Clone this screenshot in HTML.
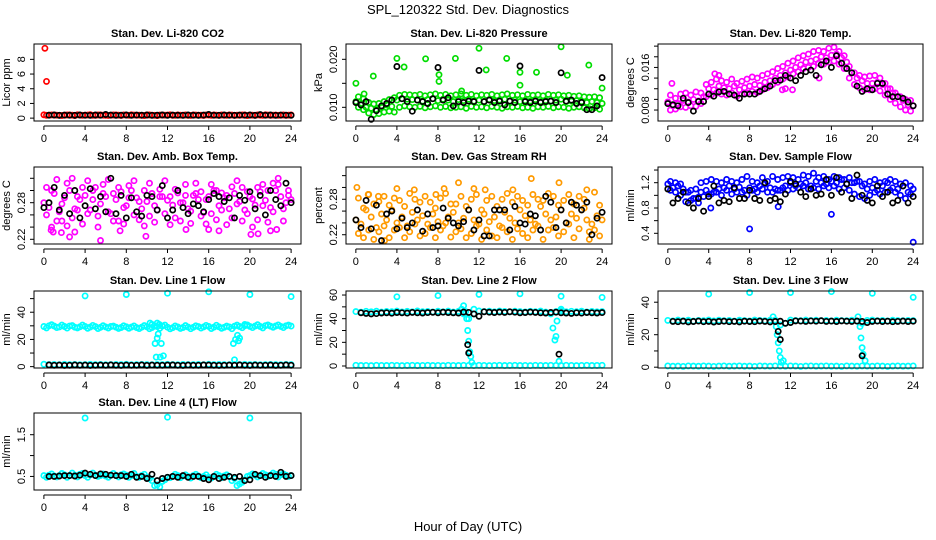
<!DOCTYPE html>
<html><head><meta charset="utf-8"><style>
html,body{margin:0;padding:0;background:#fff;}
svg{display:block;font-family:"Liberation Sans",sans-serif;}
</style></head><body>
<svg id="chart" width="936" height="540" viewBox="0 0 936 540" xmlns="http://www.w3.org/2000/svg">
<rect width="936" height="540" fill="#fff"/>
<text x="468" y="14" text-anchor="middle" font-size="13">SPL_120322  Std. Dev. Diagnostics</text>
<text x="468" y="531" text-anchor="middle" font-size="13">Hour of Day (UTC)</text>
<g id="panels"></g>
</svg>
<script>
// ---- data ----
const xTicks = [0,4,8,12,16,20,24];
const co2Red = [0.45,0.4,0.42,0.38,0.4,0.44,0.36,0.41,0.4,0.47,0.39,0.42,0.38,0.4,0.43,0.37,0.41,0.45,0.4,0.38,0.42,0.4,0.36,0.44,0.41,0.39,0.43,0.4,0.38,0.42,0.4,0.37,0.41,0.44,0.38,0.4,0.42,0.39,0.4,0.43,0.41,0.38,0.4,0.45,0.39,0.41,0.4,0.38,0.42];
const co2RedB = [0.38,0.44,0.4,0.36,0.42,0.4,0.45,0.38,0.41,0.39,0.43,0.4,0.37,0.42,0.4,0.44,0.38,0.41,0.4,0.36,0.43,0.39,0.41,0.4,0.45,0.38,0.4,0.42,0.37,0.41,0.4,0.44,0.39,0.4,0.43,0.38,0.41,0.4,0.42,0.36,0.4,0.44,0.39,0.41,0.4,0.38,0.43,0.4];
const co2OutX = [0.1,0.25];
const co2OutY = [9.5,5.0];
const co2Blk = [0.4,0.42,0.38,0.41,0.4,0.39,0.43,0.4,0.38,0.42,0.4,0.5,0.41,0.39,0.4,0.42,0.38,0.41,0.4,0.43,0.39,0.4,0.42,0.38,0.41,0.4,0.39,0.42,0.4,0.38,0.41,0.5,0.4,0.39,0.42,0.4,0.38,0.41,0.4,0.43,0.39,0.48,0.4,0.42,0.38,0.41,0.4,0.39,0.42];

const presMid = [0.0112,0.0108,0.0100,0.0098,0.0095,0.0100,0.0105,0.0102,0.0115,0.0118,0.0117,0.0116,0.0115,0.0113,0.0116,0.0118,0.0114,0.0117,0.0115,0.0112,0.0116,0.0114,0.0117,0.0113,0.0115,0.0112,0.0116,0.0114,0.0115,0.0117,0.0113,0.0115,0.0112,0.0114,0.0113,0.0116,0.0112,0.0114,0.0113,0.0115,0.0117,0.0112,0.0113,0.0114,0.0112,0.0110,0.0112,0.0110,0.0108];
const presLo = [0.0100,0.0095,0.0088,0.0085,0.0087,0.0090,0.0092,0.0090,0.0100,0.0103,0.0101,0.0100,0.0102,0.0099,0.0101,0.0103,0.0100,0.0102,0.0099,0.0100,0.0101,0.0098,0.0102,0.0100,0.0101,0.0099,0.0102,0.0100,0.0098,0.0101,0.0100,0.0102,0.0099,0.0100,0.0098,0.0101,0.0100,0.0102,0.0099,0.0101,0.0100,0.0098,0.0100,0.0101,0.0099,0.0097,0.0099,0.0096];
const presHi = [0.0122,0.0118,0.0110,0.0107,0.0108,0.0112,0.0116,0.0120,0.0125,0.0127,0.0126,0.0125,0.0127,0.0124,0.0126,0.0128,0.0125,0.0127,0.0124,0.0126,0.0128,0.0125,0.0127,0.0124,0.0126,0.0125,0.0127,0.0124,0.0126,0.0128,0.0125,0.0126,0.0124,0.0127,0.0125,0.0126,0.0124,0.0127,0.0125,0.0126,0.0124,0.0125,0.0123,0.0124,0.0122,0.0121,0.0122,0.0120];
const presOutX = [0,0.8,1.7,4,4.7,6.8,8.1,8.1,9.7,10.3,12,12.7,14.7,16,16,17.6,20,20.6,22.7,24];
const presOutY = [0.0150,0.0128,0.0165,0.0202,0.0184,0.0201,0.0168,0.0154,0.0202,0.0134,0.0223,0.0178,0.0202,0.0173,0.0146,0.0173,0.0226,0.0167,0.0188,0.0140];
const presBlk = [0.0110,0.0105,0.0112,0.0075,0.0093,0.0103,0.0108,0.0115,0.0185,0.0118,0.0112,0.0092,0.0115,0.0112,0.0108,0.0118,0.0183,0.0115,0.0120,0.0103,0.0112,0.0110,0.0113,0.0112,0.0177,0.0112,0.0115,0.0110,0.0113,0.0105,0.0113,0.0110,0.0186,0.0112,0.0110,0.0113,0.0110,0.0112,0.0113,0.0110,0.0172,0.0113,0.0115,0.0108,0.0110,0.0095,0.0095,0.0103,0.0162];

const tmpMid = [0.0095,0.0088,0.0092,0.0098,0.0095,0.0100,0.0097,0.0105,0.0120,0.0118,0.0125,0.0122,0.0120,0.0125,0.0118,0.0122,0.0125,0.0128,0.0126,0.0132,0.0135,0.0140,0.0145,0.0150,0.0155,0.0160,0.0165,0.0170,0.0172,0.0175,0.0180,0.0178,0.0183,0.0185,0.0178,0.0170,0.0150,0.0140,0.0135,0.0130,0.0130,0.0132,0.0128,0.0120,0.0112,0.0105,0.0098,0.0090,0.0088];
const tmpLo = [0.0080,0.0082,0.0086,0.0085,0.0088,0.0087,0.0092,0.0105,0.0108,0.0112,0.0110,0.0108,0.0112,0.0106,0.0110,0.0112,0.0115,0.0113,0.0118,0.0122,0.0128,0.0132,0.0138,0.0142,0.0148,0.0152,0.0158,0.0160,0.0162,0.0168,0.0166,0.0170,0.0172,0.0166,0.0158,0.0140,0.0128,0.0122,0.0118,0.0118,0.0120,0.0116,0.0108,0.0100,0.0093,0.0086,0.0080,0.0078];
const tmpHi = [0.0108,0.0102,0.0110,0.0112,0.0108,0.0114,0.0112,0.0128,0.0132,0.0138,0.0135,0.0132,0.0138,0.0130,0.0134,0.0138,0.0142,0.0140,0.0145,0.0148,0.0152,0.0158,0.0162,0.0168,0.0172,0.0178,0.0182,0.0185,0.0190,0.0192,0.0190,0.0196,0.0198,0.0190,0.0182,0.0162,0.0150,0.0145,0.0142,0.0144,0.0145,0.0140,0.0130,0.0120,0.0112,0.0105,0.0100,0.0098];
const tmpOutX = [0.4,4.6,11.2,11.5,12.2,14.8,5.0];
const tmpOutY = [0.0130,0.0148,0.0118,0.0120,0.0118,0.0140,0.0145];
const tmpBlk = [0.0092,0.0090,0.0088,0.0102,0.0094,0.0078,0.0096,0.0096,0.0110,0.0106,0.0114,0.0115,0.0110,0.0108,0.0102,0.0110,0.0110,0.0110,0.0115,0.0120,0.0125,0.0135,0.0136,0.0145,0.0140,0.0135,0.0145,0.0152,0.0155,0.0145,0.0165,0.0172,0.0160,0.0182,0.0168,0.0158,0.0150,0.0125,0.0115,0.0120,0.0118,0.0130,0.0130,0.0110,0.0105,0.0105,0.0102,0.0095,0.0088];

const ambA = [0.280,0.272,0.295,0.265,0.288,0.300,0.270,0.285,0.292,0.268,0.305,0.278,0.290,0.262,0.285,0.298,0.275,0.300,0.288,0.270,0.282,0.295,0.268,0.290,0.284,0.276,0.296,0.280,0.270,0.292,0.285,0.264,0.290,0.300,0.275,0.288,0.270,0.295,0.282,0.268,0.290,0.276,0.298,0.284,0.272,0.300,0.290,0.280,0.285];
const ambB = [0.260,0.300,0.250,0.278,0.312,0.255,0.268,0.305,0.262,0.285,0.258,0.310,0.265,0.295,0.250,0.272,0.308,0.260,0.282,0.300,0.258,0.275,0.302,0.262,0.290,0.255,0.280,0.310,0.266,0.295,0.258,0.285,0.262,0.300,0.268,0.292,0.255,0.278,0.305,0.262,0.286,0.252,0.275,0.300,0.265,0.310,0.270,0.292];
const ambC = [0.305,0.240,0.318,0.250,0.242,0.320,0.290,0.245,0.316,0.300,0.240,0.295,0.318,0.250,0.305,0.245,0.288,0.316,0.252,0.242,0.312,0.248,0.290,0.316,0.244,0.302,0.250,0.292,0.246,0.312,0.298,0.245,0.310,0.252,0.296,0.244,0.306,0.316,0.250,0.298,0.240,0.305,0.310,0.248,0.312,0.320,0.250,0.300];
const ambOutX = [0.7,0.9,1.7,2.5,3.0,5.5,7.4,9.9,16.0,17.0,20.1,20.8,22.0,22.6,13.8];
const ambOutY = [0.235,0.232,0.231,0.224,0.232,0.218,0.234,0.225,0.236,0.234,0.228,0.229,0.234,0.236,0.236];
const ambBlk = [0.272,0.280,0.305,0.268,0.292,0.262,0.300,0.255,0.275,0.303,0.270,0.290,0.265,0.320,0.262,0.292,0.255,0.288,0.265,0.258,0.292,0.290,0.268,0.308,0.255,0.268,0.300,0.272,0.262,0.278,0.275,0.265,0.285,0.295,0.290,0.282,0.288,0.255,0.292,0.284,0.298,0.270,0.292,0.260,0.300,0.285,0.275,0.312,0.280];

const rhA = [0.245,0.238,0.262,0.250,0.232,0.255,0.245,0.262,0.240,0.250,0.235,0.258,0.245,0.252,0.238,0.255,0.242,0.235,0.250,0.258,0.240,0.248,0.262,0.245,0.238,0.255,0.242,0.250,0.235,0.258,0.248,0.240,0.262,0.252,0.245,0.238,0.268,0.255,0.245,0.250,0.262,0.240,0.255,0.248,0.262,0.245,0.238,0.252,0.245];
const rhB = [0.222,0.265,0.228,0.272,0.225,0.235,0.270,0.228,0.232,0.268,0.225,0.238,0.275,0.222,0.232,0.265,0.228,0.240,0.272,0.225,0.230,0.268,0.222,0.235,0.262,0.228,0.218,0.268,0.232,0.225,0.275,0.230,0.222,0.270,0.228,0.235,0.278,0.228,0.232,0.270,0.225,0.238,0.272,0.230,0.265,0.225,0.228,0.270];
const rhC = [0.282,0.215,0.288,0.212,0.276,0.285,0.215,0.282,0.278,0.215,0.290,0.280,0.218,0.285,0.275,0.215,0.282,0.290,0.216,0.272,0.285,0.215,0.280,0.288,0.212,0.278,0.285,0.215,0.280,0.290,0.212,0.285,0.278,0.215,0.288,0.280,0.212,0.290,0.285,0.218,0.278,0.288,0.215,0.285,0.280,0.212,0.292,0.218];
const rhOutX = [0.1,1.2,2.2,4.0,5.7,7.8,8.6,10.0,11.5,12.6,15.3,17.1,19.8,22.5,2.8];
const rhOutY = [0.300,0.288,0.285,0.298,0.296,0.288,0.298,0.308,0.298,0.296,0.296,0.315,0.308,0.296,0.210];
const rhBlk = [0.245,0.232,0.278,0.230,0.270,0.210,0.255,0.260,0.230,0.248,0.232,0.240,0.262,0.226,0.255,0.232,0.235,0.265,0.248,0.240,0.235,0.242,0.262,0.228,0.245,0.218,0.218,0.262,0.262,0.262,0.228,0.268,0.240,0.238,0.255,0.252,0.228,0.285,0.275,0.232,0.262,0.240,0.275,0.270,0.262,0.275,0.220,0.248,0.258];

const sfA = [1.18,1.12,1.15,1.10,1.05,0.95,0.97,0.98,1.02,1.05,1.10,1.12,1.15,1.10,1.13,1.08,1.12,1.10,1.15,1.18,1.12,1.10,1.08,1.15,1.20,1.15,1.18,1.20,1.15,1.22,1.20,1.18,1.22,1.20,1.25,1.18,1.20,1.22,1.15,1.10,1.12,1.08,1.15,1.20,1.12,1.10,1.15,1.05,1.10];
const sfB = [1.08,1.05,1.00,0.90,0.92,0.95,1.05,1.08,1.02,1.05,1.00,1.08,1.02,1.05,1.05,1.00,1.08,1.05,1.10,1.05,1.05,1.08,1.12,1.08,1.10,1.12,1.15,1.10,1.12,1.10,1.15,1.12,1.15,1.10,1.12,1.08,1.02,0.98,0.95,1.00,1.05,1.02,1.05,1.08,1.05,1.00,0.95,1.02];
const sfC = [1.22,1.20,1.18,1.05,1.08,1.10,1.20,1.22,1.25,1.22,1.20,1.25,1.22,1.20,1.25,1.30,1.22,1.20,1.28,1.22,1.30,1.25,1.28,1.30,1.28,1.25,1.32,1.30,1.35,1.28,1.30,1.25,1.30,1.28,1.25,1.28,1.20,1.22,1.18,1.22,1.25,1.20,1.22,1.25,1.22,1.18,1.20,1.15];
const sfOutX = [8.0,16.0,24.0,10.8,4.2,3.0];
const sfOutY = [0.47,0.70,0.26,0.82,0.80,0.88];
const sfBlk = [1.10,0.88,0.95,1.05,0.88,0.80,0.95,0.75,0.98,1.15,0.88,0.92,0.90,1.12,0.95,0.95,1.08,0.95,0.92,1.20,0.92,0.95,0.90,1.02,1.22,1.18,1.05,0.98,1.10,1.00,1.02,1.25,1.00,1.28,1.05,1.18,0.95,1.32,1.00,0.92,0.88,1.15,0.98,1.05,0.88,0.92,1.15,0.88,0.98];

const l1A = [29.5,30,29.8,29.2,29.5,29.8,29,29.3,29.6,29.1,29.4,28.9,29.2,29.5,29,28.8,29.3,29.1,28.7,29,29.3,28.8,29.5,29.8,29,28.6,29.2,28.8,29.1,28.9,29.4,29.2,29.6,29,29.3,28.9,29.2,29.7,29.5,30,29.6,29.8,29.5,30.1,29.7,29.9,29.6,30,29.8];
const l1B = [28.5,30.8,28.8,30.5,28.3,30.2,28.5,30.5,28.2,30.3,28.0,30.1,28.4,29.8,28.1,30.0,28.2,29.9,28.0,30.2,27.9,30.0,28.2,30.5,27.8,29.9,28.1,30.2,27.9,30.0,28.3,30.3,28.0,30.4,28.2,29.8,27.9,30.5,28.6,30.6,28.7,30.8,28.5,30.6,28.9,30.7,28.7,30.5];
const l1Base = [1.8,1.5,1.6,1.4,1.7,1.5,1.6,1.4,1.5,1.7,1.5,1.6,1.4,1.5,1.6,1.5,1.7,1.4,1.5,1.6,1.5,1.4,1.6,1.5,1.7,1.5,1.4,1.6,1.5,1.5,1.6,1.4,1.7,1.5,1.6,1.5,1.4,1.6,1.5,1.7,1.5,1.6,1.4,1.5,1.6,1.5,1.4,1.6,1.5];
const l1Blk = [1.2,1.0,1.1,0.9,1.0,1.2,1.0,1.1,0.9,1.0,1.1,1.0,1.2,1.0,0.9,1.1,1.0,1.0,1.2,0.9,1.1,1.0,1.0,1.1,1.2,1.0,0.9,1.1,1.0,1.0,1.2,1.1,1.0,0.9,1.0,1.1,1.0,1.2,1.0,0.9,1.1,1.0,1.0,1.1,0.9,1.0,1.2,1.0,1.1];
const l1DipX = [10.5,10.8,11.0,11.1,11.2,11.4,11.6,10.9,11.3,18.4,18.6,18.8,18.9,19.0,18.5,10.3,11.0,19.5];
const l1DipY = [31,17,21,24,31,17,8,7,7,17,20,23,19,21,5,32,32,31];
const l1OutX = [4,8,12,16,20,24];
const l1OutY = [52,53,54,55,53,51.5];

const l2Blk = [45,44.5,44,44.3,44.8,45,44.6,45.2,45,44.7,45.3,45,44.8,45.1,45.4,45,45.5,45.2,45,44.8,45.6,45.3,44,42,45.8,45.5,45.2,45.6,45.3,45.8,45.5,45,45.2,45.6,45.3,45,44.8,45.2,45.5,45,44.8,44.5,45,44.7,45.2,45,44.8,45.1,44.9];
const l2Cy = [46,45.5,46.2,45.8,46.3,45.6,46.1,45.9,46.4,45.7,46.2,45.8,46.5,45.9,46.1,45.7,46.3,45.8,46.4,45.6,46.2,44,40,44,46.5,46,46.3,45.8,46.4,46.1,45.8,46.3,46,45.7,46.2,45.9,46.4,45.6,44,46,46.5,45.8,46.2,45.9,46.3,45.7,46.1,45.8,46];
const l2Base = [0.6,0.4,0.5,0.3,0.6,0.5,0.4,0.6,0.5,0.3,0.5,0.6,0.4,0.5,0.6,0.4,0.5,0.3,0.6,0.5,0.4,0.6,0.5,0.4,0.6,0.5,0.3,0.5,0.6,0.4,0.5,0.6,0.4,0.5,0.3,0.6,0.5,0.4,0.6,0.5,0.4,0.6,0.5,0.3,0.5,0.6,0.4,0.5,0.6];
const l2DipX = [10.3,10.5,10.7,10.8,10.9,11.0,11.1,11.2,11.3,11.5,19.0,19.2,19.4,19.5,19.6,19.8,20.0];
const l2DipY = [48,51,46,40,30,21,12,8,3,48,45,32,22,25,38,4,48];
const l2BlkDipX = [10.9,11.0,19.8];
const l2BlkDipY = [18,11,10];
const l2OutX = [4,8,12,16,20,24];
const l2OutY = [58.5,59.5,60.5,61,59,58];

const l3Blk = [28.2,28,28.3,27.9,28.1,28.4,28,28.2,27.8,28.1,28.3,28,28.2,27.9,28.3,28.1,28,28.4,28.2,27.9,28.1,28.3,27,27.5,28.5,28.4,28.2,28.5,28.3,28.6,28.2,28.4,28.1,28.5,28.3,28.2,28.4,28.1,27.5,28.2,28.4,28.1,28.3,28,28.2,28.4,28.1,28.3,28.2];
const l3Cy = [28.8,28.5,29,28.6,28.9,28.4,28.8,28.6,29,28.5,28.9,28.6,28.8,28.4,28.9,28.7,28.5,29,28.8,28.6,28.9,28.7,26,27,29,28.8,28.6,29,28.7,28.9,28.6,28.8,28.5,28.9,28.7,28.6,28.9,28.5,27,28.8,29,28.6,28.8,28.5,28.9,28.7,28.6,28.8,28.7];
const l3Base = [0.8,0.6,0.7,0.5,0.8,0.7,0.6,0.8,0.7,0.5,0.7,0.8,0.6,0.7,0.8,0.6,0.7,0.5,0.8,0.7,0.6,0.8,0.7,0.6,0.8,0.7,0.5,0.7,0.8,0.6,0.7,0.8,0.6,0.7,0.5,0.8,0.7,0.6,0.8,0.7,0.6,0.8,0.7,0.5,0.7,0.8,0.6,0.7,0.8];
const l3DipX = [10.3,10.5,10.6,10.7,10.8,10.9,11.0,11.1,11.3,18.6,18.8,18.9,19.0,19.1,19.3];
const l3DipY = [31,29,25,20,15,10,6,3,4,31,25,18,12,8,4];
const l3BlkDipX = [10.8,11.0,19.0];
const l3BlkDipY = [22,17,7];
const l3OutX = [4,8,12,16,20,24];
const l3OutY = [45,46,46,46.5,45.5,43];

const l4A = [0.52,0.53,0.51,0.52,0.54,0.52,0.53,0.55,0.52,0.54,0.53,0.52,0.51,0.53,0.52,0.54,0.53,0.52,0.50,0.52,0.48,0.40,0.30,0.38,0.48,0.50,0.52,0.51,0.50,0.52,0.51,0.50,0.48,0.50,0.52,0.51,0.50,0.45,0.32,0.42,0.52,0.53,0.52,0.54,0.53,0.55,0.54,0.53,0.52];
const l4B = [0.48,0.56,0.49,0.57,0.48,0.58,0.49,0.57,0.48,0.58,0.50,0.56,0.48,0.57,0.49,0.56,0.48,0.57,0.48,0.55,0.45,0.28,0.25,0.42,0.47,0.55,0.47,0.54,0.46,0.55,0.47,0.54,0.46,0.55,0.47,0.54,0.40,0.28,0.36,0.50,0.56,0.49,0.57,0.50,0.58,0.49,0.56,0.50];
const l4Blk = [0.5,0.5,0.51,0.52,0.52,0.51,0.53,0.58,0.55,0.52,0.56,0.55,0.53,0.52,0.52,0.50,0.55,0.48,0.50,0.45,0.55,0.40,0.45,0.48,0.50,0.48,0.52,0.48,0.50,0.50,0.45,0.42,0.50,0.45,0.48,0.50,0.48,0.50,0.40,0.42,0.55,0.52,0.48,0.52,0.50,0.60,0.50,0.52,0.52];
const l4OutX = [4,12,20];
const l4OutY = [1.9,1.92,1.9];

// hour grids (category axis)
const hrsH = []; for (let i = 0; i <= 48; i++) hrsH.push(i * 0.5);
const hrsO = []; for (let i = 0; i < 48; i++) hrsO.push(i * 0.5 + 0.25);

// ---- layout ----
const cols = [[34,301],[346,612],[658,923]];
const rowTops = [44,167,291,413];
const PH = 77;
const XMIN = -0.96, XMAX = 24.96;
const NS = 'http://www.w3.org/2000/svg';

const RED='#ff0000', GRN='#00dd00', MAG='#ff00ff', ORG='#ff9a00', BLU='#0000ff', CYN='#00ffff', BLK='#000000';

const panels = [
 {c:0,r:0,name:'co2',title:'Stan. Dev. Li-820 CO2',ylab:'Licor ppm',ylim:[-0.39,10.09],ticks:[0,2,4,6,8],labs:['0','2','4','6','8'],
  series:[[hrsH,co2Red,RED],[hrsO,co2RedB,RED],[co2OutX,co2OutY,RED],[hrsH.slice(1),co2Blk,BLK]]},
 {c:1,r:0,name:'pressure',title:'Stan. Dev. Li-820 Pressure',ylab:'kPa',ylim:[0.00715,0.02319],ticks:[0.010,0.015,0.020],labs:['0.010','','0.020'],
  series:[[hrsH,presMid,GRN],[hrsO,presLo,GRN],[hrsO,presHi,GRN],[presOutX,presOutY,GRN],[hrsH,presBlk,BLK]]},
 {c:2,r:0,name:'li820-temp',title:'Stan. Dev. Li-820 Temp.',ylab:'degrees C',ylim:[0.00594,0.0204],ticks:[0.008,0.010,0.012,0.014,0.016,0.018,0.020],labs:['0.008','','','','0.016','',''],
  series:[[hrsH,tmpMid,MAG],[hrsO,tmpLo,MAG],[hrsO,tmpHi,MAG],[tmpOutX,tmpOutY,MAG],[hrsH,tmpBlk,BLK]]},
 {c:0,r:1,name:'amb-box-temp',title:'Stan. Dev. Amb. Box Temp.',ylab:'degrees C',ylim:[0.2123,0.3385],ticks:[0.22,0.24,0.26,0.28,0.30,0.32],labs:['0.22','','','0.28','',''],
  series:[[hrsH,ambA,MAG],[hrsO,ambB,MAG],[hrsO,ambC,MAG],[ambOutX,ambOutY,MAG],[hrsH,ambBlk,BLK]]},
 {c:1,r:1,name:'gas-stream-rh',title:'Stan. Dev. Gas Stream RH',ylab:'percent',ylim:[0.2043,0.3346],ticks:[0.22,0.24,0.26,0.28,0.30,0.32],labs:['0.22','','','0.28','',''],
  series:[[hrsH,rhA,ORG],[hrsO,rhB,ORG],[hrsO,rhC,ORG],[rhOutX,rhOutY,ORG],[hrsH,rhBlk,BLK]]},
 {c:2,r:1,name:'sample-flow',title:'Stan. Dev. Sample Flow',ylab:'ml/min',ylim:[0.231,1.448],ticks:[0.4,0.6,0.8,1.0,1.2,1.4],labs:['0.4','','0.8','','1.2',''],
  series:[[hrsH,sfA,BLU],[hrsO,sfB,BLU],[hrsO,sfC,BLU],[sfOutX,sfOutY,BLU],[hrsH,sfBlk,BLK]]},
 {c:0,r:2,name:'line1-flow',title:'Stan. Dev. Line 1 Flow',ylab:'ml/min',ylim:[-1,55.6],ticks:[0,10,20,30,40,50],labs:['0','','20','','40',''],
  series:[[hrsH,l1A,CYN],[hrsO,l1B,CYN],[hrsH,l1Base,CYN],[l1DipX,l1DipY,CYN],[l1OutX,l1OutY,CYN],[hrsH.slice(1),l1Blk,BLK]]},
 {c:1,r:2,name:'line2-flow',title:'Stan. Dev. Line 2 Flow',ylab:'ml/min',ylim:[-1.7,63.4],ticks:[0,10,20,30,40,50,60],labs:['0','','20','','40','','60'],
  series:[[hrsH,l2Cy,CYN],[hrsH,l2Base,CYN],[l2DipX,l2DipY,CYN],[l2OutX,l2OutY,CYN],[hrsH.slice(1),l2Blk,BLK],[l2BlkDipX,l2BlkDipY,BLK]]},
 {c:2,r:2,name:'line3-flow',title:'Stan. Dev. Line 3 Flow',ylab:'ml/min',ylim:[-0.5,46.9],ticks:[0,10,20,30,40],labs:['0','','20','','40'],
  series:[[hrsH,l3Cy,CYN],[hrsH,l3Base,CYN],[l3DipX,l3DipY,CYN],[l3OutX,l3OutY,CYN],[hrsH.slice(1),l3Blk,BLK],[l3BlkDipX,l3BlkDipY,BLK]]},
 {c:0,r:3,name:'line4-flow',title:'Stan. Dev. Line 4 (LT) Flow',ylab:'ml/min',ylim:[0.175,2.02],ticks:[0.5,1.0,1.5],labs:['0.5','','1.5'],
  series:[[hrsH,l4A,CYN],[hrsO,l4B,CYN],[l4OutX,l4OutY,CYN],[hrsH.slice(1),l4Blk,BLK]]}
];

function el(tag, attrs, parent) {
  const e = document.createElementNS(NS, tag);
  for (const k in attrs) e.setAttribute(k, attrs[k]);
  parent.appendChild(e);
  return e;
}

const root = document.getElementById('panels');
panels.forEach(p => {
  const L = cols[p.c][0], R = cols[p.c][1], T = rowTops[p.r], B = T + PH;
  const xs = v => L + (v - XMIN) / (XMAX - XMIN) * (R - L);
  const ys = v => B - (v - p.ylim[0]) / (p.ylim[1] - p.ylim[0]) * (B - T);
  const g = el('g', {}, root);
  
  

  const t = el('text', {x:(L+R)/2, y:T-7, 'text-anchor':'middle', 'font-size':'11', 'font-weight':'bold'}, g);
  t.textContent = p.title;
  
  

  const yl = el('text', {x:0, y:0, 'text-anchor':'middle', 'font-size':'11', transform:`translate(${L-24},${(T+B)/2}) rotate(-90)`}, g);
  yl.textContent = p.ylab;
  
  

  // points
  const pts = el('g', {fill:'none', 'stroke-width':'1.7'}, g);
  
  
  p.series.forEach(s => {
    const X = s[0], Y = s[1];
    const n = Math.min(X.length, Y.length);
    for (let i = 0; i < n; i++) {
      const cy = ys(Y[i]);
      if (cy < T - 2 || cy > B + 2) continue;
      const c = el('circle', {cx:xs(X[i]).toFixed(1), cy:cy.toFixed(1), r:'2.6', stroke:s[2]}, pts);
      
      
    }
  });

  // box
  const bx = el('rect', {x:L, y:T, width:R-L, height:B-T, fill:'none', stroke:'#000', 'stroke-width':'1'}, g);
  
  

  // y axis
  const ya = el('g', {}, g);
  
  
  p.ticks.forEach((v, i) => {
    const y = ys(v);
    el('line', {x1:L-4, x2:L, y1:y, y2:y, stroke:'#000'}, ya);
    if (p.labs[i]) {
      const tl = el('text', {x:0, y:0, 'text-anchor':'middle', 'font-size':'11', transform:`translate(${L-9},${y}) rotate(-90)`}, ya);
      tl.textContent = p.labs[i];
      
      
    }
  });

  // x axis
  const xa = el('g', {}, g);
  
  
  el('line', {x1:xs(xTicks[0]), x2:xs(xTicks[xTicks.length-1]), y1:B+5, y2:B+5, stroke:'#000'}, xa);
  xTicks.forEach(v => {
    const x = xs(v);
    el('line', {x1:x, x2:x, y1:B+5, y2:B+9, stroke:'#000'}, xa);
    const tl = el('text', {x:x, y:B+21, 'text-anchor':'middle', 'font-size':'11'}, xa);
    tl.textContent = String(v);
    
    
  });
});
</script>
</body></html>
